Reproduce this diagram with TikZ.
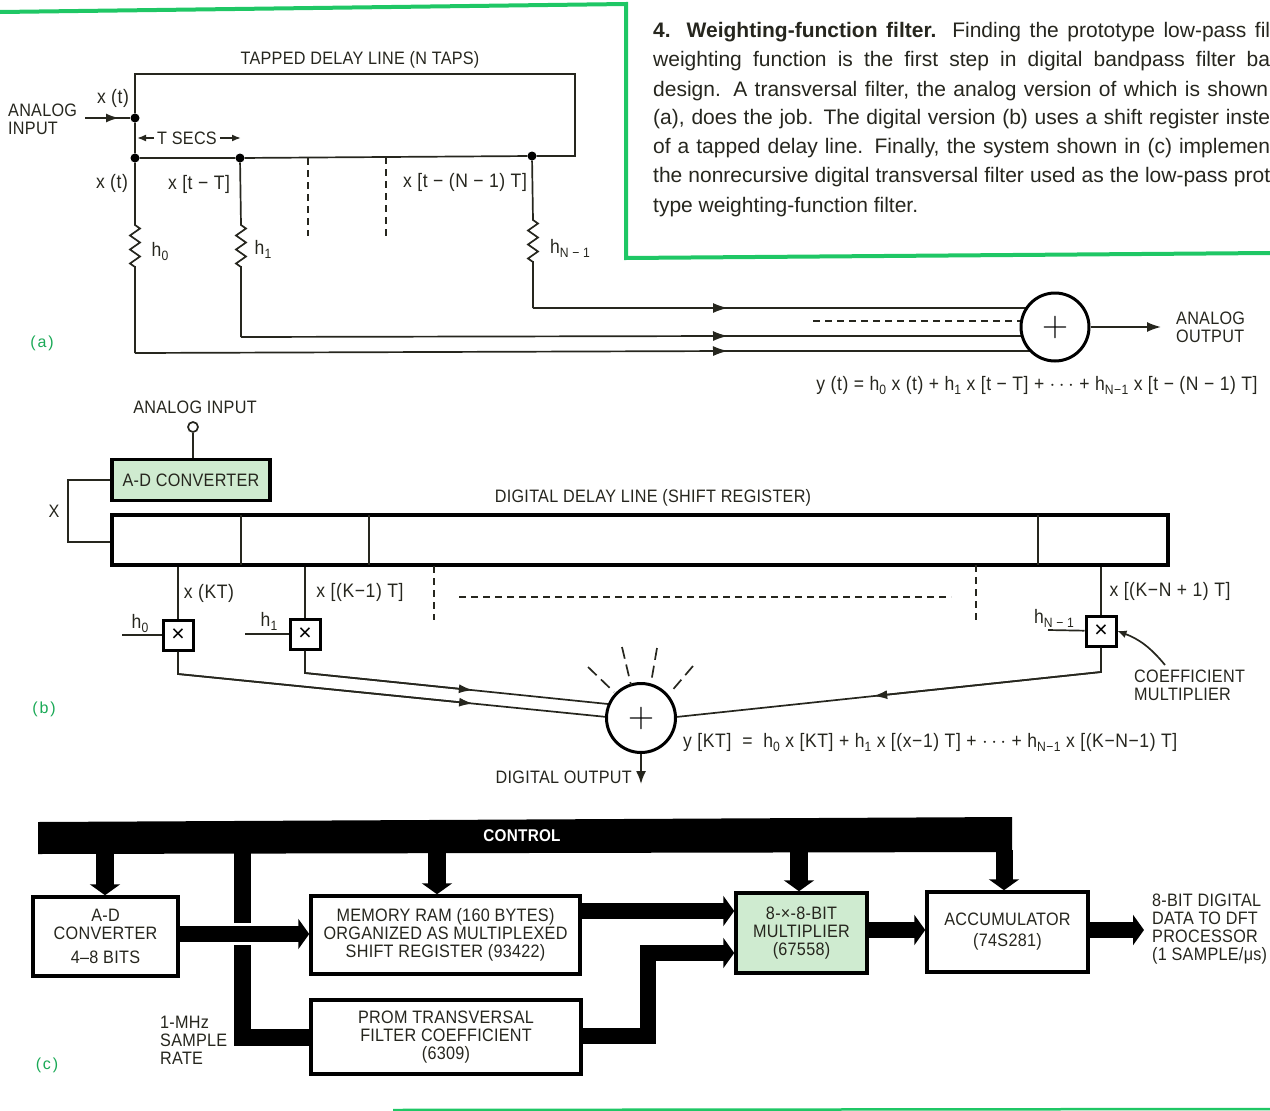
\documentclass[tikz,border=0pt]{standalone}
\usepackage{fontspec}
\setmainfont{Liberation Sans}
\newfontfamily\labelfont[FakeStretch=0.9,LetterSpace=1.5]{Liberation Sans}
\newfontfamily\eqnfont[FakeStretch=0.9,LetterSpace=3]{Liberation Sans}
\newfontfamily\partfont[LetterSpace=12]{Liberation Sans}
\usetikzlibrary{arrows.meta,calc,decorations.pathmorphing}
\definecolor{framegreen}{HTML}{1FC765}
\definecolor{boxgreen}{HTML}{CFEBD0}
\definecolor{inkdark}{HTML}{26261E}
\newcommand{\lowtext}[1]{\raisebox{-0.35ex}{\fontsize{13.5}{13.5}\selectfont #1}}
\newcommand{\bigplus}{\scalebox{1.45}{\fontsize{24}{24}\selectfont$+$}}
\tikzset{
  lab/.style={font=\labelfont\fontsize{18}{18}\selectfont, text=inkdark, inner sep=0pt, align=center},
  lableft/.style={lab, anchor=west, align=left},
  eqn/.style={font=\eqnfont\fontsize{19.5}{18}\selectfont, text=inkdark, inner sep=0pt, yshift=-1.5pt},
  capline/.style={font=\fontsize{21}{20}\selectfont, text=inkdark, inner sep=0pt, anchor=base west},
  partlab/.style={font=\partfont\fontsize{16}{18}\selectfont, text=framegreen!85!black, inner sep=0pt},
  wire/.style={draw=inkdark, line width=1.7pt},
  dashwire/.style={draw=inkdark, line width=1.7pt, dash pattern=on 7pt off 5pt},
  dot/.style={circle, fill=black, inner sep=0pt, minimum size=9pt},
  sumnode/.style={circle, draw=black, fill=white, line width=3pt, minimum size=68pt, inner sep=0pt},
  multbox/.style={rectangle, draw=black, fill=white, line width=3pt, minimum size=30pt, inner sep=0pt, font=\fontsize{23}{20}\selectfont},
  blockbox/.style={rectangle, draw=black, fill=white, line width=3.5pt, lab},
  greenbox/.style={blockbox, fill=boxgreen},
  bus/.style={draw=black, line width=16pt},
  busarrow/.style={bus, -{Triangle[width=30pt,length=11pt]}},
  rzig/.style={decoration={zigzag, segment length=14pt, amplitude=5pt}},
  frameline/.style={draw=framegreen, line width=4pt, line join=miter}
}
\begin{document}
\begin{tikzpicture}[x=1pt,y=-1pt]
\useasboundingbox (0,0) rectangle (1270,1111);
% green frame
\draw[frameline] (0,12) -- (626,4) -- (626,258) -- (1270,253);
\draw[draw=framegreen, line width=2.5pt] (393,1110) -- (1270,1109);

% caption
\node[capline] (cap1) at (653,37) {\makebox[617pt][s]{\textbf{4. Weighting-function filter.} Finding the prototype low-pass fil}};
\node[capline] (cap2) at (653,66) {\makebox[617pt][s]{weighting function is the first step in digital bandpass filter ba}};
\node[capline] (cap3) at (653,96) {\makebox[615pt][s]{design. A transversal filter, the analog version of which is shown}};
\node[capline] (cap4) at (653,124) {\makebox[617pt][s]{(a), does the job. The digital version (b) uses a shift register inste}};
\node[capline] (cap5) at (653,153) {\makebox[617pt][s]{of a tapped delay line. Finally, the system shown in (c) implemen}};
\node[capline] (cap6) at (653,182) {\makebox[617pt][s]{the nonrecursive digital transversal filter used as the low-pass prot}};
\node[capline] (cap7) at (653,212) {type weighting-function filter.};

% (a) tapped delay line
\node[lab] (tapname) at (360,60) {TAPPED DELAY LINE (N TAPS)};
\node[lableft] (ainput) at (8,119) {ANALOG\\INPUT};
\node[dot] (da) at (135,118) {};
\node[dot] (d0) at (135,158) {};
\node[dot] (d1) at (240,158) {};
\node[dot] (dn) at (532,156) {};
\coordinate (ain) at (85,118);
\coordinate (boxtl) at (135,74);
\coordinate (boxtr) at (575,74);
\coordinate (boxbr) at (575,156);
\draw[wire] (da) -- (boxtl) -- (boxtr) -- (boxbr) -- (dn) -- (d1) -- (d0) -- (da);
\draw[wire, -{Latex[length=13pt,width=9pt]}] (ain) -- (119,118);
\draw[wire] (112,118) -- (da);
\node[eqn] (xa) at (113,97) {x (t)};
\node[lab] (tsecs) at (187,138) {T SECS};
\coordinate (tl) at (137,138);
\coordinate (tr) at (241,138);
\draw[wire, -{Latex[length=9pt,width=7pt]}] (tsecs.west) ++(-3,0) -- (tl);
\draw[wire, -{Latex[length=9pt,width=7pt]}] (tsecs.east) ++(3,0) -- (tr);
\node[eqn] (x0) at (112,182) {x (t)};
\node[eqn] (x1) at (199,183) {x [t − T]};
\node[eqn] (xn) at (465,181) {x [t − (N − 1) T]};
\draw[dashwire] (308,158) -- (308,236);
\draw[dashwire] (386,157) -- (386,236);
\node[eqn] (h0a) at (160,250) {h\lowtext{0}};
\node[eqn] (h1a) at (263,248) {h\lowtext{1}};
\node[eqn] (hna) at (570,247) {h\lowtext{N − 1}};
% the sum and the three weighted lines
\coordinate (c0) at (135,353);
\coordinate (c1) at (241,337);
\coordinate (cn) at (533,308);
\draw[wire] (d0) -- (135,225) decorate[rzig]{-- (135,267)} -- (c0);
\draw[wire] (d1) -- (241,225) decorate[rzig]{-- (241,267)} -- (c1);
\draw[wire] (dn) -- (533,220) decorate[rzig]{-- (533,262)} -- (cn);
\foreach \n/\y in {c0/351,c1/336,cn/308} {
  \draw[wire, -{Latex[length=15pt,width=10pt]}] (\n) -- (728,\y);
  \draw[wire] (718,\y) -- (1035,\y);
}
\draw[dashwire] (813,321) -- (1021,321);
\node[sumnode] (suma) at (1055,327) {\bigplus};
\coordinate (aout) at (1161,327);
\draw[wire, -{Latex[length=14pt,width=10pt]}] (suma) -- (aout);
\node[lableft] (aoutput) at (1176,327) {ANALOG\\OUTPUT};
\node[eqn] (eqa) at (1037,384) {y (t) = h\lowtext{0} x (t) + h\lowtext{1} x [t − T] + $\cdots$ + h\lowtext{N−1} x [t − (N − 1) T]};
\node[partlab] (parta) at (42,343) {(a)};

% (b) shift register
\node[lab] (binname) at (195,407) {ANALOG INPUT};
\node[circle, draw=inkdark, line width=1.7pt, minimum size=10pt, inner sep=0pt] (binpin) at (193,427) {};
\node[greenbox, minimum width=158pt, minimum height=41pt] (adc) at (191,480) {A-D CONVERTER};
\draw[wire] (binpin) -- (binpin |- adc.north);
\node[rectangle, draw=black, line width=4pt, minimum width=1056pt, minimum height=50pt, inner sep=0pt] (shreg) at (640,540) {};
\foreach \x in {241,369,1038} \draw[wire] (\x,515) -- (\x,565);
\coordinate (xt) at (68,480);
\coordinate (xb) at (68,542);
\draw[wire] (adc.west) -- (xt) -- (xb) -- (shreg.west |- xb);
\node[lab] (xlab) at (54,511) {X};
\node[lab] (regname) at (653,498) {DIGITAL DELAY LINE (SHIFT REGISTER)};
\node[multbox] (m0) at (178,635) {×};
\node[multbox] (m1) at (305,634) {×};
\node[multbox] (mn) at (1101,631) {×};
\draw[wire] (m0 |- shreg.south) -- (m0);
\draw[wire] (m1 |- shreg.south) -- (m1);
\draw[wire] (mn |- shreg.south) -- (mn);
\node[eqn] (lab0) at (209,592) {x (KT)};
\node[eqn] (lab1) at (360,591) {x [(K−1) T]};
\node[eqn] (labn) at (1170,590) {x [(K−N + 1) T]};
\node[eqn] (hb0) at (140,622) {h\lowtext{0}};
\node[eqn] (hb1) at (269,620) {h\lowtext{1}};
\node[eqn] (hbn) at (1054,617) {h\lowtext{N − 1}};
\coordinate (hin0) at (122,635);
\coordinate (hin1) at (245,634);
\coordinate (hinn) at (1048,630);
\draw[wire] (hin0) -- (m0);
\draw[wire] (hin1) -- (m1);
\draw[wire] (hinn) -- (mn);
\draw[dashwire] (434,566) -- (434,620);
\draw[dashwire] (976,565) -- (976,620);
\draw[dashwire] (459,597) -- (951,597);
\coordinate (w0) at (178,674);
\coordinate (w1) at (305,673);
\coordinate (wn) at (1101,672);
\coordinate (e0) at (607,717);
\coordinate (e1) at (608,704);
\coordinate (en) at (676,717);
\draw[wire] (m0) -- (w0) -- (e0);
\draw[wire] (m1) -- (w1) -- (e1);
\draw[wire] (mn) -- (wn) -- (en);
\draw[wire, -{Latex[length=14pt,width=9pt]}] (w0) -- ($(w0)!0.688!(e0)$);
\draw[wire, -{Latex[length=14pt,width=9pt]}] (w1) -- ($(w1)!0.554!(e1)$);
\draw[wire, -{Latex[length=14pt,width=9pt]}] (wn) -- ($(wn)!0.536!(en)$);
\node[sumnode, minimum size=69pt] (sumb) at (641,718) {\bigplus};
\foreach \a/\b/\c/\d in {588/667/614/692, 622/647/631/685, 657/648/651/683, 693/666/670/693}
  \draw[draw=inkdark, line width=1.7pt, dash pattern=on 12pt off 6pt] (\a,\b) -- (\c,\d);
\coordinate (bout) at (641,784);
\draw[wire, -{Latex[length=13pt,width=10pt]}] (sumb) -- (bout);
\node[lab, anchor=east] (boutlab) at (632,777) {DIGITAL OUTPUT};
\node[lableft] (coeflab) at (1134,685) {COEFFICIENT\\MULTIPLIER};
\draw[wire, -{Latex[length=9pt,width=8pt]}] (1165,665) to[bend right=15] (mn.east);
\node[eqn, anchor=west] (eqb) at (683,741) {y [KT] \ = \ h\lowtext{0} x [KT] + h\lowtext{1} x [(x−1) T] + $\cdots$ + h\lowtext{N−1} x [(K−N−1) T]};
\node[partlab] (partb) at (44,709) {(b)};

% (c) block diagram
\fill[black] (38,822) -- (1012,817) -- (1012,852) -- (38,854) -- cycle;
\node[lab, text=white, font=\bfseries\labelfont\fontsize{17}{18}\selectfont] (ctrl) at (522,836) {CONTROL};
\node[blockbox, minimum width=145pt, minimum height=79pt] (adb) at (105.5,936.5) {A-D\\CONVERTER\\[6pt]4–8 BITS};
\node[blockbox, minimum width=269pt, minimum height=78pt] (ram) at (445.5,935) {MEMORY RAM (160 BYTES)\\ORGANIZED AS MULTIPLEXED\\SHIFT REGISTER (93422)};
\node[blockbox, minimum width=270pt, minimum height=74pt] (prom) at (446,1037) {PROM TRANSVERSAL\\FILTER COEFFICIENT\\(6309)};
\node[greenbox, minimum width=131pt, minimum height=80pt] (mult) at (801.5,933) {8-×-8-BIT\\MULTIPLIER\\(67558)};
\node[blockbox, minimum width=161pt, minimum height=80pt] (acc) at (1007.5,932) {ACCUMULATOR\\[3pt](74S281)};
% clock bus, cut where the converter output passes
\coordinate (clk) at (242,1037);
\draw[bus, line width=17pt] (242,850) -- (clk) -- (prom.west);
\draw[draw=white, line width=22pt] (225,934) -- (260,934);
\draw[busarrow] (adb.east |- 0,934) -- (ram.west |- 0,934);
\foreach \x/\n in {105/adb,437/ram,799/mult} {
  \draw[busarrow, line width=18pt] (\x,850) -- (\x,850 |- \n.north);
}
\draw[busarrow, line width=17pt] (1004,850) -- (1004,850 |- acc.north);
\draw[busarrow] (ram.east |- 0,911) -- (mult.west |- 0,911);
\coordinate (pr) at (648,1036);
\coordinate (pu) at (648,953);
\draw[bus, line join=miter] (prom.east |- pr) -- (pr) -- (pu) -- (720,953);
\draw[busarrow] (640,953) -- (mult.west |- pu);
\draw[busarrow] (mult.east |- 0,930) -- (acc.west |- 0,930);
\coordinate (dout) at (1144,930);
\draw[busarrow] (acc.east |- dout) -- (dout);
\node[lableft] (doutlab) at (1152,929) {8-BIT DIGITAL\\DATA TO DFT\\PROCESSOR\\(1 SAMPLE/μs)};
\node[lableft] (clklab) at (160,1040) {1-MHz\\SAMPLE\\RATE};
\node[partlab] (partc) at (47,1065) {(c)};
\end{tikzpicture}
\end{document}
